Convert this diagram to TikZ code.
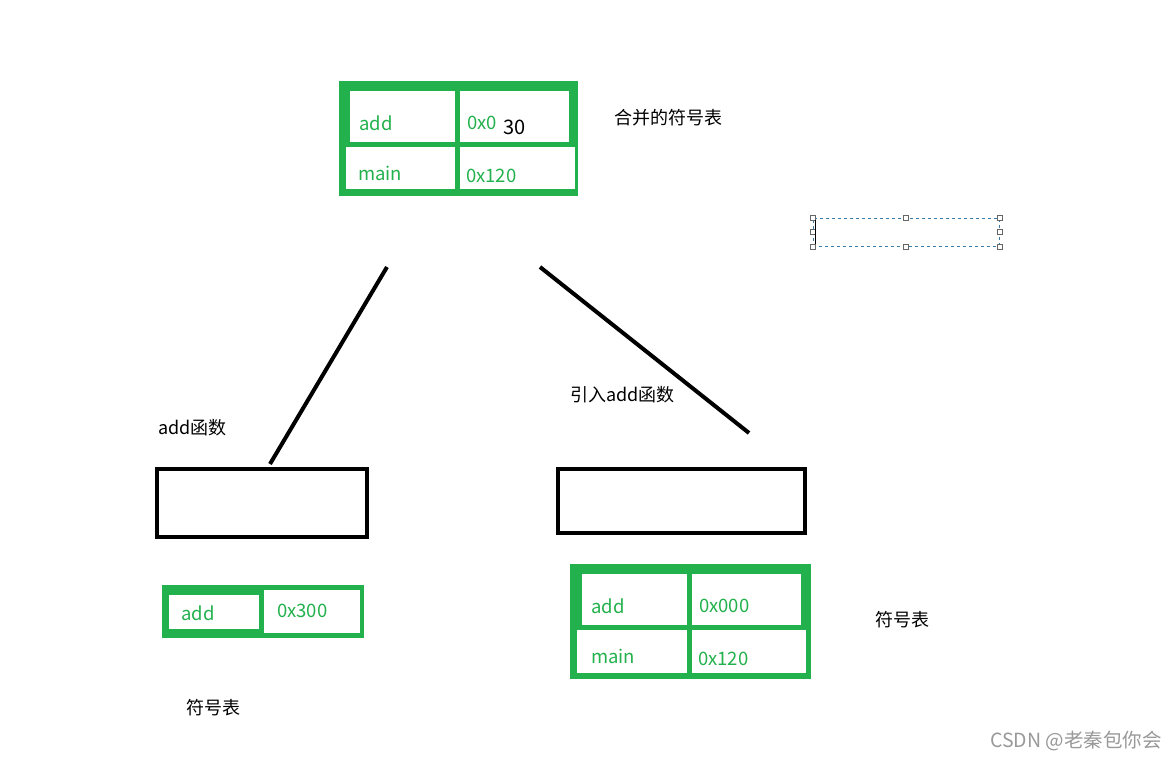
\documentclass[tikz,border=0pt]{standalone}
\usepackage{fontspec}
\setmainfont{Noto Sans CJK SC}
\definecolor{pgreen}{HTML}{22B14C}
\definecolor{selblue}{HTML}{3A7CA5}
\tikzset{
  gbox/.style={fill=pgreen, draw=none, inner sep=0pt},
  cell/.style={fill=white, draw=none, inner sep=0pt},
  gtxt/.style={text=pgreen, inner sep=0pt, anchor=west, font=\fontsize{18.5}{20}\selectfont},
  btxt/.style={text=black, inner sep=0pt, anchor=west, font=\fontsize{18}{20}\selectfont},
  blackbox/.style={draw=black, line width=4pt, fill=none, inner sep=0pt},
  stroke/.style={draw=black, line width=4pt},
  handle/.style={draw=black!60, fill=white, line width=0.8pt, minimum size=5pt, inner sep=0pt},
}
\begin{document}
\begin{tikzpicture}[x=1pt,y=-1pt]
\useasboundingbox[fill=white] (0,0) rectangle (1176,760);
% ---------- top merged table ----------
\node[gbox, minimum width=239pt, minimum height=115pt] (topT) at (458.5,138.5) {};
\node[cell, minimum width=105pt, minimum height=51pt] (t11) at (402.5,116.5) {};
\node[cell, minimum width=109pt, minimum height=51pt] (t12) at (514.5,116.5) {};
\node[cell, minimum width=109pt, minimum height=42pt] (t21) at (400.5,168) {};
\node[cell, minimum width=115pt, minimum height=42pt] (t22) at (517.5,168) {};
\node[gtxt] (ta) at (359,123) {add};
\node[gtxt] (tav) at (467,123) {0x0};
\node[btxt, font=\fontsize{20}{22}\selectfont] (t30) at (503,127) {30};
\node[gtxt] (tm) at (358,173) {main};
\node[gtxt] (tmv) at (466,176) {0x120};
\node[btxt] (lblTop) at (614,118) {合并的符号表};
% ---------- selection box ----------
\node[draw=selblue, dashed, line width=0.8pt, minimum width=186pt, minimum height=28pt, inner sep=0pt] (sel) at (906,232) {};
\foreach \a in {north west,north,north east,west,east,south west,south,south east}
  \node[handle] at (sel.\a) {};
\draw[black, line width=1.2pt] ([xshift=3pt,yshift=-2pt]sel.north west) -- ([xshift=3pt,yshift=2pt]sel.south west);
% ---------- strokes ----------
\coordinate (l1) at (387,267);
\coordinate (l2) at (270,464);
\coordinate (r1) at (540,267);
\coordinate (r2) at (749,433);
\draw[stroke] (l1) -- (l2);
\draw[stroke] (r1) -- (r2);
\node[btxt] (lblAdd) at (158,428) {add函数};
\node[btxt] (lblIn) at (570,395) {引入add函数};
% ---------- black boxes ----------
\node[blackbox, minimum width=210pt, minimum height=68pt] (bl) at (262,503) {};
\node[blackbox, minimum width=247pt, minimum height=64pt] (br) at (681.5,501) {};
% ---------- bottom-left table ----------
\node[gbox, minimum width=202pt, minimum height=53pt] (blT) at (263,611.5) {};
\node[cell, minimum width=90pt, minimum height=34pt] (b11) at (214,612) {};
\node[cell, minimum width=96pt, minimum height=43pt] (b12) at (312,611.5) {};
\node[gtxt] (ba) at (181,613) {add};
\node[gtxt] (bav) at (277,611) {0x300};
\node[btxt] (lblBL) at (186,708) {符号表};
% ---------- bottom-right table ----------
\node[gbox, minimum width=241pt, minimum height=115pt] (brT) at (690.5,621.5) {};
\node[cell, minimum width=105pt, minimum height=51pt] (r11) at (634.5,599.5) {};
\node[cell, minimum width=109pt, minimum height=51pt] (r12) at (746.5,599.5) {};
\node[cell, minimum width=110pt, minimum height=43pt] (r21) at (632,651.5) {};
\node[cell, minimum width=114pt, minimum height=43pt] (r22) at (749,651.5) {};
\node[gtxt] (ra) at (591,606) {add};
\node[gtxt] (rav) at (699,606) {0x000};
\node[gtxt] (rm) at (591,656) {main};
\node[gtxt] (rmv) at (698,659) {0x120};
\node[btxt] (lblBR) at (875,620) {符号表};
% ---------- watermark ----------
\node[inner sep=0pt, anchor=west, text=black!40, font=\fontsize{19.5}{21}\selectfont] (wm) at (990,741) {CSDN @老秦包你会};
\end{tikzpicture}
\end{document}
